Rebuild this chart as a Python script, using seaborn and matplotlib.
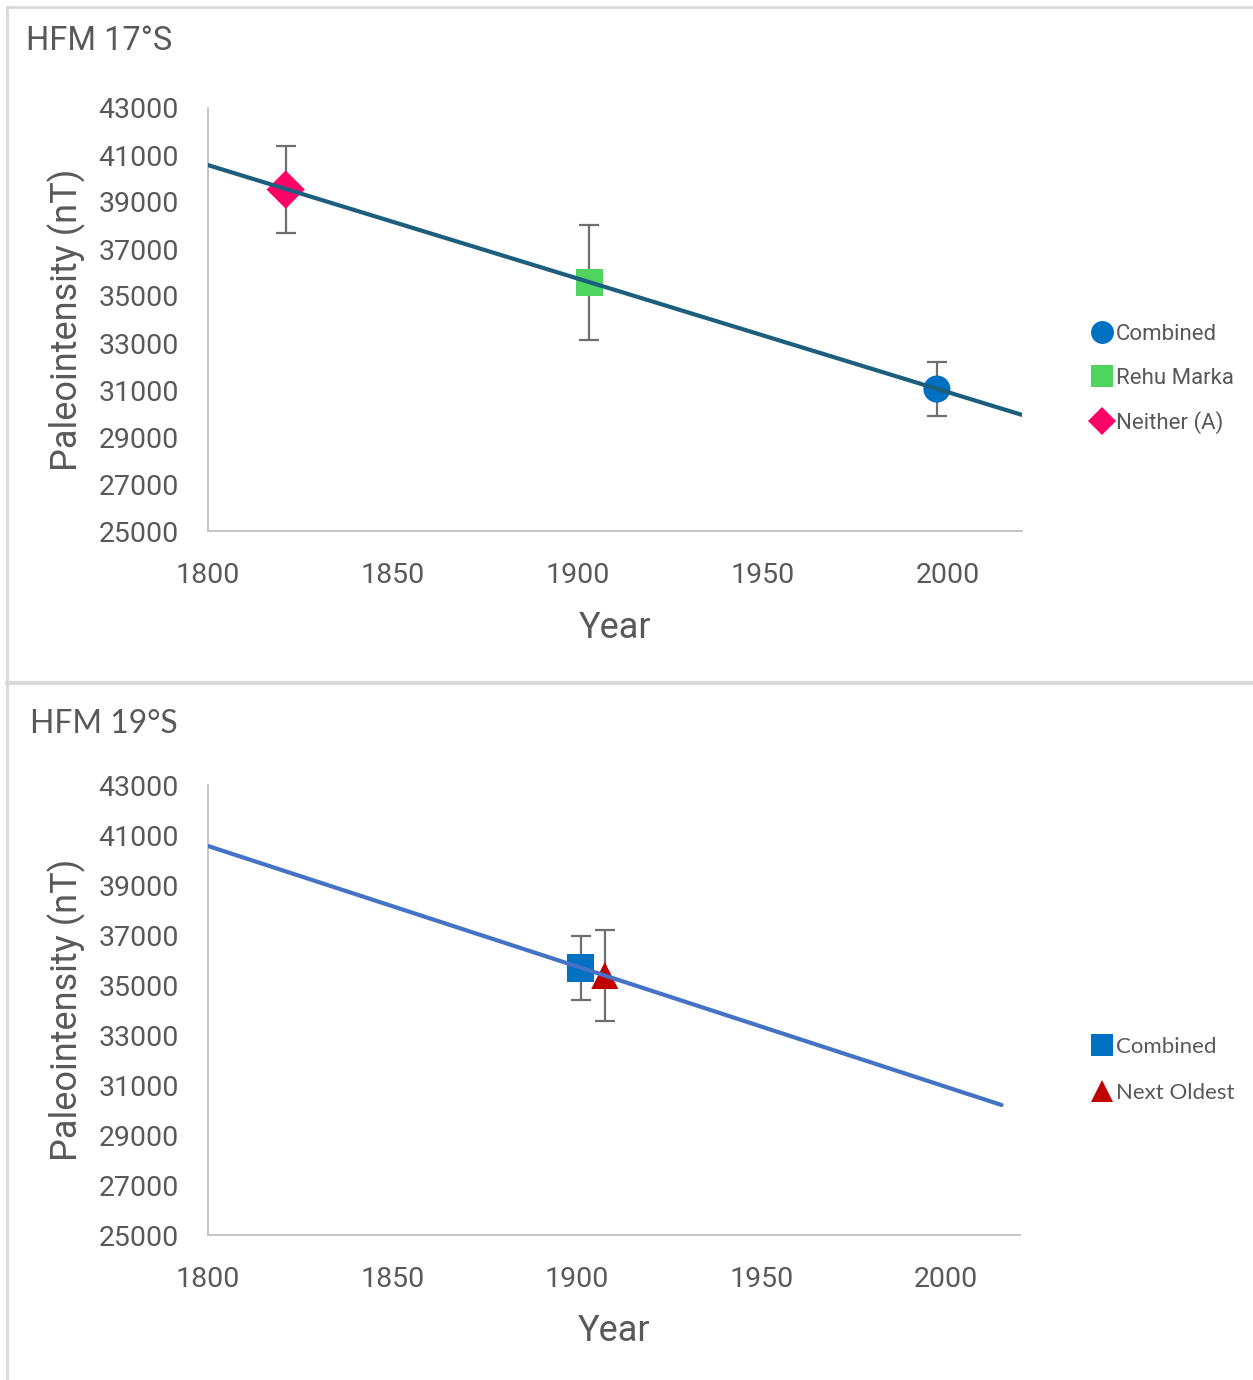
import matplotlib
matplotlib.use("Agg")
import matplotlib.pyplot as plt
import seaborn as sns
import pandas as pd
from matplotlib.lines import Line2D

# HFM 17°S paleointensity estimates
s17_names = ["Combined", "Rehu Marka", "Neither (A)"]
s17_years = [1997, 1903, 1821]
s17_values = [31040, 35570, 39530]
s17_errors = [1150, 2450, 1850]
trend17_years = [1800, 2020]
trend17_values = [40570, 29940]

# HFM 19°S paleointensity estimates
s19_names = ["Combined", "Next Oldest"]
s19_years = [1901, 1907.5]
s19_values = [35680, 35380]
s19_errors = [1280, 1820]
trend19_years = [1800, 2015]
trend19_values = [40560, 30200]

yticks = list(range(25000, 43001, 2000))
xticks = [1800, 1850, 1900, 1950, 2000]

colors17 = {"Combined": "#0070C0", "Rehu Marka": "#4ED45F", "Neither (A)": "#FF0066"}
markers17 = {"Combined": "o", "Rehu Marka": "s", "Neither (A)": "D"}
colors19 = {"Combined": "#0070C0", "Next Oldest": "#C00000"}
markers19 = {"Combined": "s", "Next Oldest": "^"}

sns.set_theme(style="white")
plt.rcParams["font.family"] = ["Roboto", "DejaVu Sans"]
TXT = "#595959"
SPINE = "#BFBFBF"

W, H = 1253, 1380
fig = plt.figure(figsize=(W / 100, H / 100), dpi=100)


def px_ax(left, top, right, bottom):
    return fig.add_axes([left / W, 1 - bottom / H, (right - left) / W, (bottom - top) / H])


def style_axes(ax, ylab_x, xlab_y):
    ax.set_xlim(1800, 2020)
    ax.set_ylim(25000, 43000)
    ax.set_xticks(xticks)
    ax.set_yticks(yticks)
    ax.tick_params(axis="both", length=0, labelsize=20.5, colors=TXT)
    ax.tick_params(axis="y", pad=21)
    ax.tick_params(axis="x", pad=22)
    for side in ["top", "right"]:
        ax.spines[side].set_visible(False)
    for side in ["left", "bottom"]:
        ax.spines[side].set_color(SPINE)
        ax.spines[side].set_linewidth(1.3)
    ax.set_ylabel("Paleointensity (nT)", fontsize=26, color=TXT)
    ax.set_xlabel("Year", fontsize=26, color=TXT)
    ax.yaxis.set_label_coords(ylab_x, 0.5)
    ax.xaxis.set_label_coords(0.5, xlab_y)
    ax.grid(False)


def draw_panel(ax, names, years, values, errors, colors, markers, trend_x, trend_y, line_color):
    df = pd.DataFrame({"series": names, "year": years, "value": values, "err": errors})
    ax.errorbar(df["year"], df["value"], yerr=df["err"], fmt="none", ecolor="#6E6E6E",
                elinewidth=1.6, capsize=7, capthick=1.6, zorder=2)
    sns.scatterplot(data=df, x="year", y="value", hue="series", style="series",
                    palette=colors, markers=markers, s=380, edgecolor="none",
                    legend=False, ax=ax, zorder=3)
    tdf = pd.DataFrame({"year": trend_x, "value": trend_y})
    sns.lineplot(data=tdf, x="year", y="value", color=line_color, linewidth=3,
                 ax=ax, zorder=4)


ax1 = px_ax(208, 108, 1022, 531)
draw_panel(ax1, s17_names, s17_years, s17_values, s17_errors, colors17, markers17,
           trend17_years, trend17_values, "#1B5E7E")
style_axes(ax1, -0.150, -0.187)

ax2 = px_ax(208, 785, 1020, 1235)
draw_panel(ax2, s19_names, s19_years, s19_values, s19_errors, colors19, markers19,
           trend19_years, trend19_values, "#4472C4")
style_axes(ax2, -0.150, -0.173)

# Chart titles
fig.text(26 / W, 1 - 41 / H, "HFM 17°S", fontsize=23.5, color=TXT, va="center", ha="left")
fig.text(30 / W, 1 - 724 / H, "HFM 19°S", fontsize=23, color=TXT, va="center", ha="left",
         family=["Lato", "DejaVu Sans"])


def make_legend(names, colors, markers, center_y, family, spacing):
    handles = [Line2D([0], [0], linestyle="none", marker=markers[n], color=colors[n],
                      markersize=16.5 if markers[n] != "D" else 14.5, markeredgewidth=0)
               for n in names]
    leg = fig.legend(handles, names, loc="center left",
                     bbox_to_anchor=(1091 / W, 1 - center_y / H), frameon=False,
                     handlelength=1.0, handletextpad=0.12, labelspacing=spacing,
                     borderaxespad=0, borderpad=0,
                     prop={"size": 16, "family": family})
    for t in leg.get_texts():
        t.set_color(TXT)


make_legend(s17_names, colors17, markers17, 379, ["Roboto", "DejaVu Sans"], 1.02)
make_legend(s19_names, colors19, markers19, 1070, ["Lato", "DejaVu Sans"], 1.15)

# Chart area borders
BORDER = "#D9D9D9"
fig.add_artist(Line2D([7 / W, 7 / W], [0, 1 - 7 / H], color=BORDER, linewidth=2,
                      transform=fig.transFigure))
fig.add_artist(Line2D([7 / W, 1], [1 - 7 / H, 1 - 7 / H], color=BORDER, linewidth=2,
                      transform=fig.transFigure))
fig.add_artist(Line2D([7 / W, 1], [1 - 683 / H, 1 - 683 / H], color=BORDER, linewidth=3,
                      transform=fig.transFigure))

fig.savefig("out.png", dpi=100, facecolor="white")
